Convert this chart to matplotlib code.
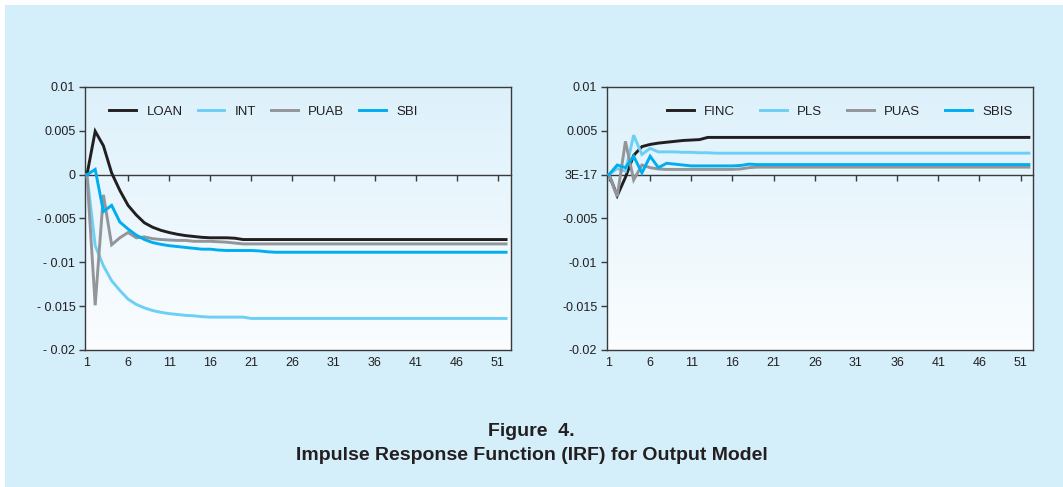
import numpy as np
import matplotlib
matplotlib.use("Agg")
import matplotlib.pyplot as plt
from matplotlib.patches import Rectangle
from matplotlib.ticker import FixedLocator, FixedFormatter

plt.rcParams['font.family'] = ['Liberation Sans', 'DejaVu Sans']

# DATA (values in thousandths, periods 1..52)
periods = list(range(1, 53))

loan = [0, 4.95, 3.3, 0.2, -1.8, -3.5, -4.6, -5.5, -6.0, -6.35, -6.6, -6.8, -6.95, -7.05,
        -7.15, -7.2, -7.2, -7.2, -7.25, -7.4] + [-7.4] * 32
int_ = [0, -8.1, -10.4, -12.1, -13.2, -14.2, -14.8, -15.2, -15.5, -15.7, -15.85, -15.95,
        -16.05, -16.1, -16.2, -16.25, -16.25, -16.25, -16.25, -16.25] + [-16.4] * 32
puab = [0, -14.9, -2.3, -8.0, -7.2, -6.6, -7.2, -7.1, -7.3, -7.4, -7.45, -7.5, -7.5, -7.6,
        -7.6, -7.6, -7.65, -7.7, -7.8, -7.9] + [-7.9] * 32
sbi = [0, 0.6, -4.2, -3.5, -5.4, -6.2, -6.9, -7.4, -7.75, -7.95, -8.1, -8.2, -8.3, -8.4,
       -8.5, -8.5, -8.6, -8.65, -8.65, -8.65, -8.65, -8.7, -8.8] + [-8.85] * 29

finc = [0, -2.4, -0.3, 2.2, 3.2, 3.45, 3.6, 3.7, 3.8, 3.9, 3.95, 4.0, 4.25] + [4.25] * 39
pls = [0, 0.7, 0.4, 4.5, 2.3, 3.0, 2.6, 2.6, 2.6, 2.55, 2.55, 2.5, 2.5, 2.45] + [2.45] * 38
puas = [0, -2.5, 3.8, -0.6, 1.1, 0.8, 0.65, 0.6, 0.6, 0.6, 0.6, 0.6, 0.6, 0.6, 0.6, 0.6,
        0.65, 0.8] + [0.86] * 34
sbis = [0, 1.1, 0.8, 2.1, 0.2, 2.1, 0.8, 1.3, 1.2, 1.1, 1.0, 1.0, 1.0, 1.0, 1.0, 1.0,
        1.05, 1.2] + [1.15] * 34

left_series = [("LOAN", loan), ("INT", int_), ("PUAB", puab), ("SBI", sbi)]
right_series = [("FINC", finc), ("PLS", pls), ("PUAS", puas), ("SBIS", sbis)]
colors = ['#231f20', '#6dcff6', '#939598', '#00aeef']

y_ticks = [0.01, 0.005, 0, -0.005, -0.01, -0.015, -0.02]
left_ylabels = ['0.01', '0.005', '0', '- 0.005', '- 0.01', '- 0.015', '- 0.02']
right_ylabels = ['0.01', '0.005', '3E-17', '-0.005', '-0.01', '-0.015', '-0.02']
x_ticks = list(range(1, 52, 5))

bg = '#d4eefa'
axis_col = '#3a3a3a'
text_col = '#231f20'

fig = plt.figure(figsize=(10.63, 4.87), dpi=100, facecolor='white')
fig.patches.append(Rectangle((5 / 1063, 0), 1, 1 - 5 / 487, transform=fig.transFigure,
                             facecolor=bg, edgecolor='none', zorder=-10))


def draw_panel(rect, series, ylabels, xmax, legend_anchor, legend_loc, colspace):
    ax = fig.add_axes(rect)
    ax.set_facecolor('none')
    # gradient plot area
    grad = np.linspace(0, 1, 256).reshape(-1, 1)
    cmap = matplotlib.colors.LinearSegmentedColormap.from_list('g', ['#fbfdff', '#ddf1fb'])
    ax.imshow(grad, cmap=cmap, aspect='auto', extent=(0, 1, 0, 1), origin='lower',
              transform=ax.transAxes, zorder=0)
    for (name, vals), c in zip(series, colors):
        ax.plot(periods, np.array(vals) / 1000.0, color=c, lw=2.1, label=name, zorder=3,
                solid_joinstyle='miter')
    ax.set_xlim(0.76, xmax)
    ax.set_ylim(-0.02, 0.01)
    for s in ax.spines.values():
        s.set_color(axis_col)
        s.set_linewidth(1.0)
    ax.yaxis.set_major_locator(FixedLocator(y_ticks))
    ax.yaxis.set_major_formatter(FixedFormatter(ylabels))
    ax.tick_params(axis='y', direction='out', length=4, width=1, color=axis_col,
                   labelsize=9, labelcolor=text_col, pad=3)
    ax.set_xticks(x_ticks)
    ax.set_xticklabels([str(t) for t in x_ticks])
    ax.tick_params(axis='x', length=0, labelsize=9, labelcolor=text_col, pad=5)
    # zero line with category ticks
    zero = ax.secondary_xaxis(0, transform=ax.transData)
    zero.set_xticks(x_ticks)
    zero.set_xticklabels([])
    zero.spines['bottom'].set_color(axis_col)
    zero.spines['bottom'].set_linewidth(1.0)
    zero.tick_params(direction='out', length=4, width=1, color=axis_col)
    leg = ax.legend(loc=legend_loc, bbox_to_anchor=legend_anchor, ncol=4, frameon=False,
                    fontsize=9.5, handlelength=2.0, handletextpad=0.8,
                    columnspacing=colspace, borderaxespad=0)
    for t in leg.get_texts():
        t.set_color(text_col)
    return ax


draw_panel([85 / 1063, 1 - 350 / 487, 426 / 1063, 263 / 487], left_series, left_ylabels,
           52.6, (0.045, 0.905), 'center left', 1.15)
draw_panel([607 / 1063, 1 - 350 / 487, 426 / 1063, 263 / 487], right_series, right_ylabels,
           52.5, (0.965, 0.905), 'center right', 1.9)

fig.text(0.5, 1 - 432 / 487, 'Figure  4.', ha='center', va='center', fontsize=14,
         fontweight='bold', color=text_col)
fig.text(0.5, 1 - 456 / 487, 'Impulse Response Function (IRF) for Output Model', ha='center',
         va='center', fontsize=14, fontweight='bold', color=text_col)

fig.savefig('out.png', dpi=100, facecolor=fig.get_facecolor())
